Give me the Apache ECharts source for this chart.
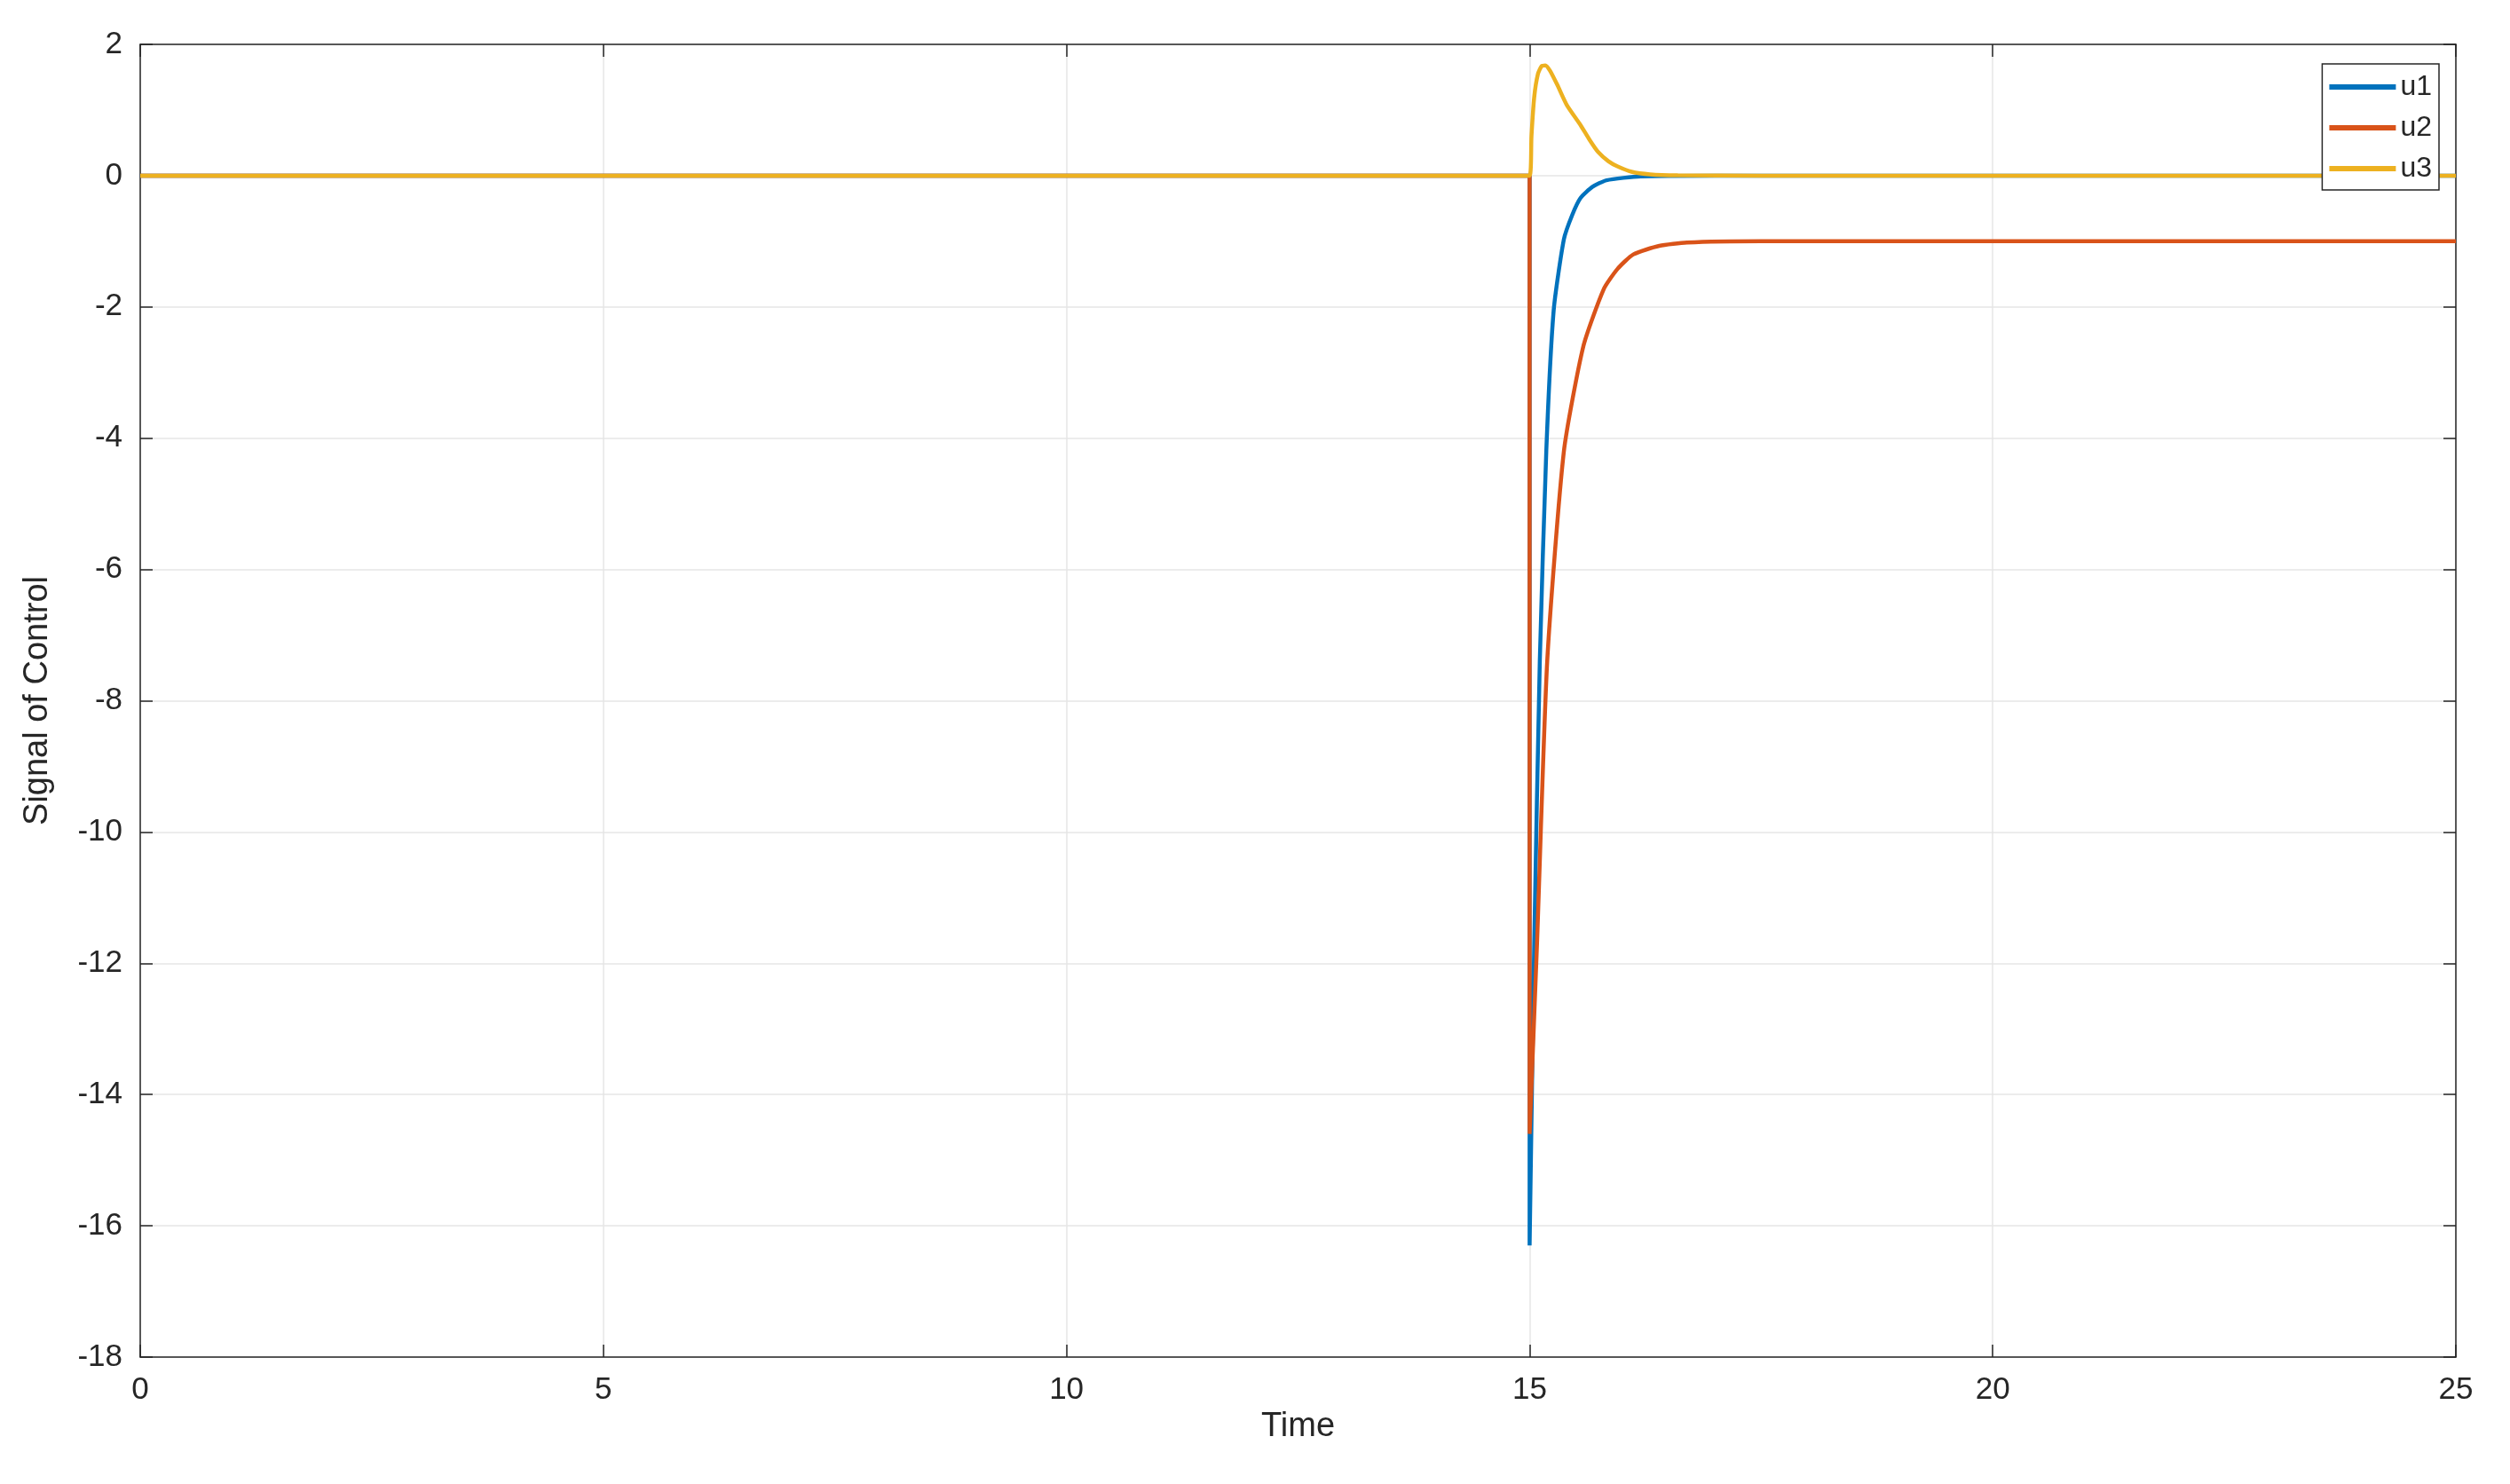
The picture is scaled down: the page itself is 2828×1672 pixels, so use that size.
<!DOCTYPE html>
<html lang="en">
<head>
    <meta charset="UTF-8">
    <title>Signal of Control</title>
    <style>html,body{margin:0;background:#fff;}</style>
</head>
<body>
<div id="chart" style="width:2828px;height:1672px;"></div>
<script src="https://cdn.jsdelivr.net/npm/echarts@6/dist/echarts.min.js"></script>
<script type="text/javascript">
    // time / value samples
    const u1T = [0, 15, 15.0, 15.05, 15.11, 15.18, 15.26, 15.37, 15.46, 15.55, 15.68, 15.83, 16.2, 17, 25];
    const u1V = [0, 0, -16.3, -11.7, -7.4, -4.2, -2.05, -0.97, -0.6, -0.34, -0.17, -0.07, -0.01, 0, 0];
    const u2T = [0, 15, 15.0, 15.08, 15.19, 15.37, 15.58, 15.8, 15.95, 16.12, 16.4, 16.7, 17.5, 25];
    const u2V = [0, 0, -14.6, -11.7, -7.4, -4.2, -2.6, -1.73, -1.42, -1.2, -1.07, -1.02, -1.0, -1.0];
    const u3T = [0, 15, 15.02, 15.05, 15.09, 15.13, 15.17, 15.22, 15.3, 15.4, 15.55, 15.65, 15.74, 15.85, 15.95, 16.1, 16.3, 16.6, 17.5, 25];
    const u3V = [0, 0, 0.6, 1.2, 1.55, 1.67, 1.68, 1.6, 1.38, 1.08, 0.77, 0.54, 0.36, 0.22, 0.14, 0.06, 0.02, 0.005, 0, 0];

    const chart = echarts.init(document.getElementById('chart'));
    const font = 'Liberation Sans, Arial, sans-serif';
    const zip = (t, v) => t.map((x, i) => [x, v[i]]);

    function line(name, t, v, color) {
        return {
            name: name, type: 'line', xAxisIndex: 0, yAxisIndex: 0,
            data: zip(t, v), smooth: 0.2, symbol: 'none',
            lineStyle: {color: color, width: 4.5}, itemStyle: {color: color}
        };
    }

    const tick = {inside: true, length: 14, lineStyle: {color: '#262626', width: 1.5}};
    const axLine = {onZero: false, lineStyle: {color: '#262626', width: 1.5}};
    const grid = {lineStyle: {color: '#e6e6e6', width: 1.5}};
    const lab = {fontFamily: font, fontSize: 35, color: '#262626'};

    chart.setOption({
        animation: false,
        backgroundColor: '#fff',
        grid: {left: 158, right: 61, top: 50, bottom: 143},
        legend: {
            right: 80, top: 72, orient: 'vertical', align: 'left',
            itemWidth: 75, itemHeight: 6, itemGap: 14,
            backgroundColor: '#fff', borderColor: '#262626', borderWidth: 1.5,
            padding: [10, 8, 8, 8],
            textStyle: {fontFamily: font, fontSize: 32, color: '#262626'},
            icon: 'rect',
            data: ['u1', 'u2', 'u3']
        },
        xAxis: [
            {type: 'value', min: 0, max: 25, interval: 5, name: 'Time', nameLocation: 'middle', nameGap: 58,
             nameTextStyle: {fontFamily: font, fontSize: 38, color: '#262626'},
             axisLine: axLine, axisTick: tick, splitLine: Object.assign({show: true}, grid),
             axisLabel: Object.assign({margin: 20}, lab)},
            {type: 'value', min: 0, max: 25, interval: 5, position: 'top',
             axisLine: axLine, axisTick: tick, axisLabel: {show: false}, splitLine: {show: false}}
        ],
        yAxis: [
            {type: 'value', min: -18, max: 2, interval: 2, name: 'Signal of Control', nameLocation: 'middle', nameGap: 96,
             nameTextStyle: {fontFamily: font, fontSize: 38, color: '#262626'},
             axisLine: axLine, axisTick: tick, splitLine: Object.assign({show: true}, grid),
             axisLabel: Object.assign({margin: 20}, lab)},
            {type: 'value', min: -18, max: 2, interval: 2, position: 'right',
             axisLine: axLine, axisTick: tick, axisLabel: {show: false}, splitLine: {show: false}}
        ],
        series: [
            line('u1', u1T, u1V, '#0072BD'),
            line('u2', u2T, u2V, '#D95319'),
            line('u3', u3T, u3V, '#EDB120')
        ]
    });
</script>
</body>
</html>
